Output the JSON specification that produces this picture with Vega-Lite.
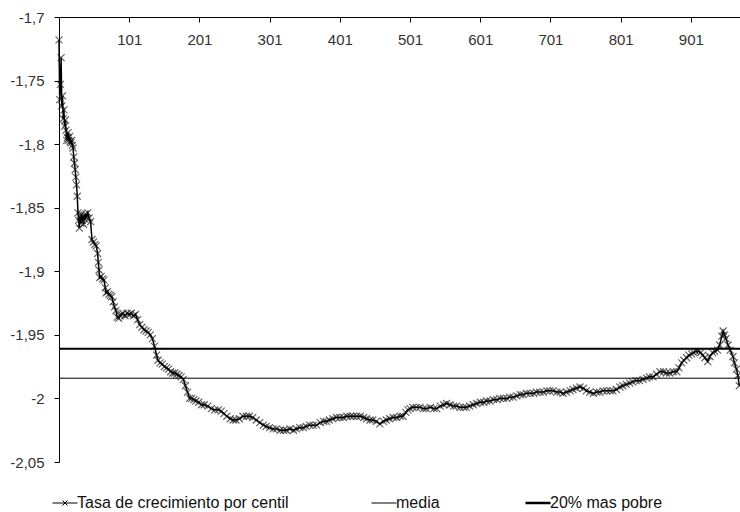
{
  "$schema": "https://vega.github.io/schema/vega-lite/v6.json",
  "width": 681,
  "height": 445,
  "autosize": "none",
  "padding": {"left": 59, "top": 17, "right": 0, "bottom": 50},
  "background": "white",
  "config": {
    "view": {"stroke": null},
    "font": "Liberation Sans",
    "axis": {"labelFont": "Liberation Sans", "labelFontSize": 15, "labelColor": "#333", "domainColor": "black", "tickColor": "black", "grid": false, "title": null, "tickSize": 5},
    "legend": {"title": null, "orient": "none", "legendX": -2, "legendY": 478, "direction": "horizontal",
               "symbolType": "stroke", "symbolSize": 625, "symbolStrokeWidth": 1, "padding": 0,
               "labelFont": "Liberation Sans", "labelFontSize": 16, "labelColor": "#111", "labelOffset": 4, "labelLimit": 0, "columnPadding": 80}
  },
  "datasets": {
    "serie": [
      {"i":1,"v":-1.718},{"i":2,"v":-1.765},{"i":3,"v":-1.753},{"i":4,"v":-1.732},{"i":5,"v":-1.770},{"i":6,"v":-1.762},{"i":7,"v":-1.780},{"i":8,"v":-1.773},{"i":9,"v":-1.786},{"i":10,"v":-1.781},
      {"i":11,"v":-1.789},{"i":12,"v":-1.797},{"i":13,"v":-1.795},{"i":14,"v":-1.791},{"i":15,"v":-1.797},{"i":16,"v":-1.794},{"i":17,"v":-1.798},{"i":18,"v":-1.799},{"i":19,"v":-1.797},{"i":20,"v":-1.801},
      {"i":21,"v":-1.803},{"i":22,"v":-1.810},{"i":23,"v":-1.815},{"i":24,"v":-1.820},{"i":25,"v":-1.826},{"i":26,"v":-1.832},{"i":27,"v":-1.841},{"i":28,"v":-1.854},{"i":29,"v":-1.860},{"i":30,"v":-1.866},
      {"i":31,"v":-1.857},{"i":32,"v":-1.862},{"i":33,"v":-1.855},{"i":34,"v":-1.860},{"i":35,"v":-1.857},{"i":36,"v":-1.863},{"i":37,"v":-1.856},{"i":38,"v":-1.859},{"i":39,"v":-1.855},{"i":40,"v":-1.858},
      {"i":42,"v":-1.854},{"i":44,"v":-1.858},{"i":46,"v":-1.861},{"i":48,"v":-1.875},{"i":50,"v":-1.877},{"i":52,"v":-1.879},{"i":54,"v":-1.880},{"i":56,"v":-1.886},{"i":57,"v":-1.893},{"i":58,"v":-1.899},
      {"i":59,"v":-1.905},{"i":61,"v":-1.904},{"i":63,"v":-1.906},{"i":65,"v":-1.907},{"i":67,"v":-1.913},{"i":68,"v":-1.917},{"i":70,"v":-1.916},{"i":72,"v":-1.918},{"i":74,"v":-1.919},{"i":76,"v":-1.920},
      {"i":78,"v":-1.924},{"i":80,"v":-1.928},{"i":82,"v":-1.931},{"i":84,"v":-1.936},{"i":86,"v":-1.937},{"i":88,"v":-1.935},{"i":90,"v":-1.934},{"i":92,"v":-1.933},{"i":95,"v":-1.935},{"i":98,"v":-1.933},
      {"i":101,"v":-1.934},{"i":104,"v":-1.933},{"i":107,"v":-1.935},{"i":110,"v":-1.934},{"i":113,"v":-1.938},{"i":116,"v":-1.942},{"i":119,"v":-1.944},{"i":122,"v":-1.946},{"i":125,"v":-1.947},{"i":128,"v":-1.948},
      {"i":131,"v":-1.950},{"i":134,"v":-1.953},{"i":137,"v":-1.959},{"i":140,"v":-1.966},{"i":142,"v":-1.970},{"i":145,"v":-1.972},{"i":148,"v":-1.973},{"i":151,"v":-1.975},{"i":154,"v":-1.976},{"i":157,"v":-1.977},
      {"i":160,"v":-1.979},{"i":163,"v":-1.980},{"i":166,"v":-1.980},{"i":169,"v":-1.981},{"i":172,"v":-1.982},{"i":175,"v":-1.983},{"i":178,"v":-1.985},{"i":181,"v":-1.990},{"i":184,"v":-1.995},{"i":187,"v":-2.000},
      {"i":190,"v":-2.000},{"i":193,"v":-2.001},{"i":196,"v":-2.002},{"i":200,"v":-2.003},{"i":204,"v":-2.005},{"i":208,"v":-2.005},{"i":213,"v":-2.006},{"i":218,"v":-2.008},{"i":223,"v":-2.009},{"i":228,"v":-2.009},
      {"i":232,"v":-2.010},{"i":236,"v":-2.012},{"i":240,"v":-2.014},{"i":245,"v":-2.016},{"i":249,"v":-2.017},{"i":253,"v":-2.017},{"i":258,"v":-2.016},{"i":263,"v":-2.014},{"i":268,"v":-2.014},{"i":272,"v":-2.014},
      {"i":277,"v":-2.015},{"i":282,"v":-2.017},{"i":287,"v":-2.019},{"i":292,"v":-2.021},{"i":296,"v":-2.022},{"i":301,"v":-2.023},{"i":306,"v":-2.024},{"i":311,"v":-2.024},{"i":316,"v":-2.025},{"i":321,"v":-2.025},
      {"i":325,"v":-2.025},{"i":330,"v":-2.024},{"i":335,"v":-2.025},{"i":339,"v":-2.024},{"i":344,"v":-2.023},{"i":349,"v":-2.023},{"i":353,"v":-2.022},{"i":358,"v":-2.021},{"i":363,"v":-2.021},{"i":368,"v":-2.021},
      {"i":373,"v":-2.019},{"i":378,"v":-2.018},{"i":382,"v":-2.018},{"i":386,"v":-2.017},{"i":391,"v":-2.016},{"i":396,"v":-2.015},{"i":401,"v":-2.015},{"i":406,"v":-2.015},{"i":411,"v":-2.014},{"i":416,"v":-2.014},
      {"i":420,"v":-2.014},{"i":425,"v":-2.014},{"i":430,"v":-2.014},{"i":435,"v":-2.015},{"i":439,"v":-2.016},{"i":444,"v":-2.017},{"i":448,"v":-2.017},{"i":453,"v":-2.018},{"i":458,"v":-2.020},{"i":463,"v":-2.018},
      {"i":467,"v":-2.017},{"i":472,"v":-2.016},{"i":477,"v":-2.015},{"i":482,"v":-2.015},{"i":487,"v":-2.014},{"i":491,"v":-2.014},{"i":495,"v":-2.011},{"i":498,"v":-2.009},{"i":501,"v":-2.008},{"i":505,"v":-2.007},
      {"i":510,"v":-2.007},{"i":515,"v":-2.007},{"i":520,"v":-2.008},{"i":524,"v":-2.008},{"i":530,"v":-2.007},{"i":535,"v":-2.008},{"i":539,"v":-2.008},{"i":544,"v":-2.006},{"i":549,"v":-2.005},{"i":553,"v":-2.004},
      {"i":558,"v":-2.005},{"i":563,"v":-2.006},{"i":567,"v":-2.006},{"i":572,"v":-2.007},{"i":577,"v":-2.007},{"i":581,"v":-2.007},{"i":586,"v":-2.006},{"i":591,"v":-2.005},{"i":596,"v":-2.004},{"i":601,"v":-2.003},
      {"i":606,"v":-2.003},{"i":610,"v":-2.002},{"i":615,"v":-2.002},{"i":620,"v":-2.001},{"i":625,"v":-2.001},{"i":629,"v":-2.000},{"i":634,"v":-2.000},{"i":639,"v":-2.000},{"i":643,"v":-1.999},{"i":648,"v":-1.999},
      {"i":653,"v":-1.998},{"i":658,"v":-1.997},{"i":662,"v":-1.997},{"i":667,"v":-1.996},{"i":672,"v":-1.996},{"i":677,"v":-1.996},{"i":681,"v":-1.995},{"i":686,"v":-1.995},{"i":691,"v":-1.995},{"i":696,"v":-1.994},
      {"i":700,"v":-1.994},{"i":705,"v":-1.994},{"i":710,"v":-1.995},{"i":715,"v":-1.995},{"i":719,"v":-1.996},{"i":724,"v":-1.995},{"i":729,"v":-1.994},{"i":733,"v":-1.993},{"i":738,"v":-1.992},{"i":743,"v":-1.991},
      {"i":748,"v":-1.992},{"i":752,"v":-1.994},{"i":757,"v":-1.995},{"i":762,"v":-1.996},{"i":767,"v":-1.995},{"i":771,"v":-1.995},{"i":776,"v":-1.994},{"i":781,"v":-1.994},{"i":786,"v":-1.994},{"i":790,"v":-1.994},
      {"i":795,"v":-1.993},{"i":800,"v":-1.991},{"i":804,"v":-1.990},{"i":809,"v":-1.989},{"i":814,"v":-1.988},{"i":818,"v":-1.987},{"i":823,"v":-1.986},{"i":828,"v":-1.986},{"i":833,"v":-1.985},{"i":838,"v":-1.984},
      {"i":842,"v":-1.983},{"i":847,"v":-1.983},{"i":852,"v":-1.981},{"i":857,"v":-1.979},{"i":862,"v":-1.979},{"i":866,"v":-1.980},{"i":871,"v":-1.980},{"i":876,"v":-1.979},{"i":881,"v":-1.979},{"i":884,"v":-1.976},
      {"i":888,"v":-1.972},{"i":891,"v":-1.970},{"i":895,"v":-1.968},{"i":898,"v":-1.966},{"i":902,"v":-1.965},{"i":905,"v":-1.964},{"i":908,"v":-1.963},{"i":912,"v":-1.963},{"i":915,"v":-1.964},{"i":918,"v":-1.966},
      {"i":921,"v":-1.968},{"i":925,"v":-1.971},{"i":928,"v":-1.967},{"i":932,"v":-1.964},{"i":935,"v":-1.963},{"i":939,"v":-1.962},{"i":942,"v":-1.958},{"i":945,"v":-1.951},{"i":947,"v":-1.947},{"i":949,"v":-1.950},
      {"i":951,"v":-1.953},{"i":954,"v":-1.958},{"i":957,"v":-1.962},{"i":961,"v":-1.967},{"i":963,"v":-1.972},{"i":966,"v":-1.977},{"i":968,"v":-1.982},{"i":970,"v":-1.990}
    ],
    "lineas": [
      {"serie": "media", "y": -1.9841},
      {"serie": "20% mas pobre", "y": -1.9609}
    ]
  },
  "layer": [
    {
      "data": {"name": "serie"},
      "mark": {"type": "point", "shape": "M-1,-1L1,1M-1,1L1,-1", "filled": false, "stroke": "#222", "strokeWidth": 1.2, "size": 49},
      "encoding": {
        "x": {"field": "i", "type": "quantitative", "scale": {"domain": [1, 971], "nice": false, "zero": false},
              "axis": {"orient": "bottom", "offset": -445, "values": [101,201,301,401,501,601,701,801,901], "labelPadding": 10, "labelFlush": false, "labelOverlap": false}},
        "y": {"field": "v", "type": "quantitative", "scale": {"domain": [-2.05, -1.7], "nice": false, "zero": false},
              "axis": {"orient": "left", "values": [-2.05,-2,-1.95,-1.9,-1.85,-1.8,-1.75,-1.7], "labelPadding": 10, "labelFlush": false, "labelOverlap": false,
                       "labelExpr": "replace(replace(format(datum.value, '.2~f'), '.', ','), '\u2212', '-')"}}
      }
    },
    {
      "data": {"name": "serie"},
      "mark": {"type": "line", "strokeWidth": 1.5},
      "encoding": {
        "x": {"field": "i", "type": "quantitative"},
        "y": {"field": "v", "type": "quantitative"},
        "color": {"datum": "Tasa de crecimiento por centil", "type": "nominal",
                  "scale": {"domain": ["Tasa de crecimiento por centil", "media", "20% mas pobre"], "range": ["black", "black", "black"]},
                  "legend": {"title": null,
                             "encode": {"symbols": {"update": {
                               "shape": {"signal": "datum.value === 'Tasa de crecimiento por centil' ? 'M-1,0H1M-0.2,-0.2L0.2,0.2M-0.2,0.2L0.2,-0.2' : 'stroke'"},
                               "strokeWidth": {"signal": "datum.value === '20% mas pobre' ? 2.5 : 1"}
                             }}}}}
      }
    },
    {
      "data": {"name": "lineas"},
      "mark": {"type": "rule"},
      "encoding": {
        "y": {"field": "y", "type": "quantitative"},
        "color": {"field": "serie", "type": "nominal", "legend": {"title": null,
                             "encode": {"symbols": {"update": {
                               "shape": {"signal": "datum.value === 'Tasa de crecimiento por centil' ? 'M-1,0H1M-0.2,-0.2L0.2,0.2M-0.2,0.2L0.2,-0.2' : 'stroke'"},
                               "strokeWidth": {"signal": "datum.value === '20% mas pobre' ? 2.5 : 1"}
                             }}}}},
        "strokeWidth": {"field": "serie", "type": "nominal", "scale": {"domain": ["media", "20% mas pobre"], "range": [1, 2]}, "legend": null}
      }
    }
  ]
}
